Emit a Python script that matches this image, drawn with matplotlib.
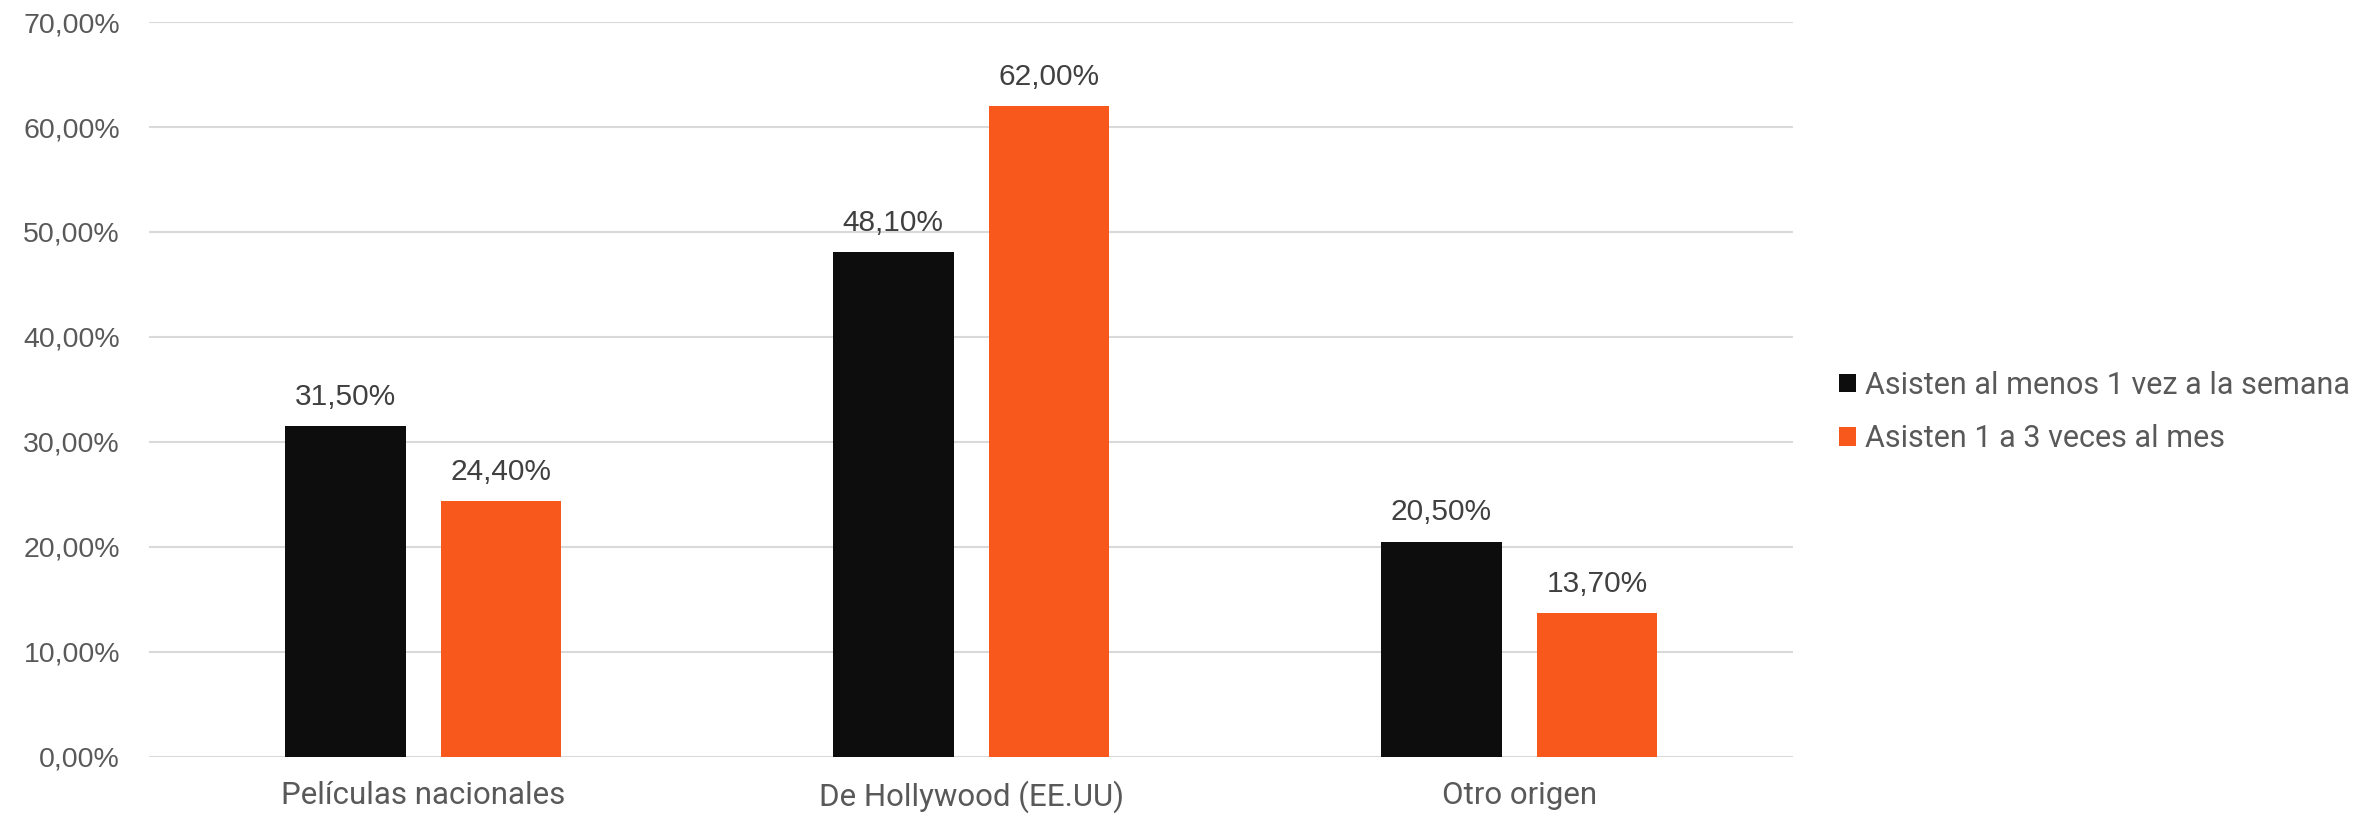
import numpy as np
import matplotlib.pyplot as plt
from matplotlib.ticker import FuncFormatter

# datos
categorias = ['Películas nacionales', 'De Hollywood (EE.UU)', 'Otro origen']
semanal = [31.5, 48.1, 20.5]
mensual = [24.4, 62.0, 13.7]
series = ['Asisten al menos 1 vez a la semana', 'Asisten 1 a 3 veces al mes']
colores = ['#0d0d0d', '#f9581c']

fig = plt.figure(figsize=(23.74, 8.15), dpi=100)
ax = fig.add_axes([0.0628, 0.0712, 0.6925, 0.9018])

x = np.arange(len(categorias))
ancho = 0.22
desp = 0.142

b1 = ax.bar(x - desp, semanal, ancho, color=colores[0], label=series[0], zorder=3)
b2 = ax.bar(x + desp, mensual, ancho, color=colores[1], label=series[1], zorder=3)

# etiquetas de datos
for barras in (b1, b2):
    for b in barras:
        v = b.get_height()
        ax.annotate(f'{v:.2f}%'.replace('.', ','),
                    (b.get_x() + b.get_width() / 2, v),
                    xytext=(0, 11), textcoords='offset points',
                    ha='center', va='bottom', fontsize=21.5,
                    color='#404040', family='Liberation Sans')

ax.set_ylim(0, 70)
ax.set_xlim(-0.5, 2.5)
ax.set_yticks(np.arange(0, 71, 10))
ax.yaxis.set_major_formatter(FuncFormatter(lambda v, p: f'{v:.2f}%'.replace('.', ',')))
ax.grid(axis='y', color='#d9d9d9', linewidth=1.5, zorder=0)
for s in ax.spines.values():
    s.set_visible(False)
ax.tick_params(axis='y', length=0, pad=21, labelsize=20.5, labelcolor='#595959')
ax.tick_params(axis='x', length=0, pad=17, labelsize=22.5, labelcolor='#595959')
for t in ax.get_yticklabels():
    t.set_family('Liberation Sans')
ax.set_xticks(x)
ax.set_xticklabels(categorias, family='Roboto')

leg = ax.legend(loc='center left', bbox_to_anchor=(0.763, 0.4945),
                bbox_transform=fig.transFigure, frameon=False,
                prop={'family': 'Roboto', 'size': 22},
                handlelength=0.55, handleheight=0.55, handletextpad=0.3,
                labelspacing=0.8)
for t in leg.get_texts():
    t.set_color('#595959')

fig.savefig('out.png', dpi=100)
